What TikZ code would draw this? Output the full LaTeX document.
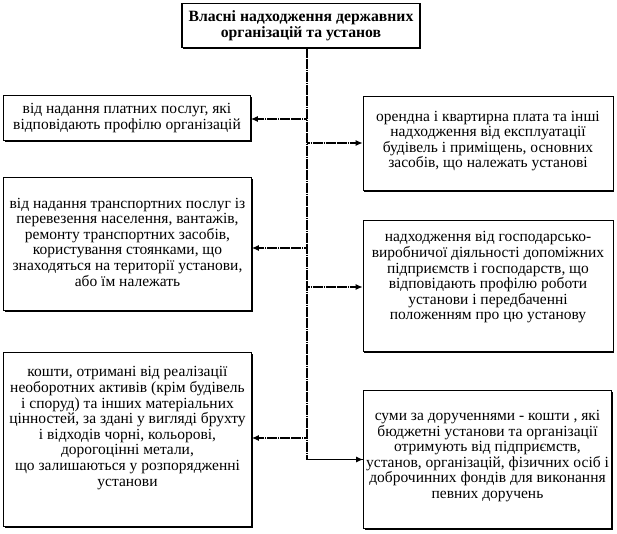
\documentclass[tikz,border=0pt]{standalone}
\usepackage{fontspec}
\setmainfont{Liberation Serif}
\usetikzlibrary{arrows.meta,shadows}
\begin{document}
\begin{tikzpicture}[x=1pt,y=-1pt,
  box/.style={draw=black, line width=0.7pt, fill=white, inner sep=0pt,
    drop shadow={shadow xshift=1.4pt, shadow yshift=-1.4pt, opacity=1, fill=black}},
  txt/.style={align=center, inner sep=0pt, font=\fontsize{15.5}{15.6}\selectfont},
  conn/.style={line width=1.1pt, dash pattern=on 1.6pt off 0.25pt},
  arr/.style={conn, -{Latex[length=7pt,width=6pt]}}]
\useasboundingbox (0,0) rectangle (617,533);
\node[box, line width=1.1pt, minimum width=238pt, minimum height=44pt] (top) at (301,25.5) {};
\node[txt, font=\bfseries\fontsize{15.7}{16.2}\selectfont] (topt) at (top.center)
  {Власні надходження державних\\організацій та установ};
\node[box, minimum width=247pt, minimum height=45pt] (b1) at (127,118) {};
\node[txt] (b1t) at (b1.center)
  {від надання платних послуг, які\\відповідають профілю організацій};
\node[box, minimum width=250pt, minimum height=94pt] (b2) at (488,143.5) {};
\node[txt] (b2t) at ([yshift=2.5pt]b2.center)
  {орендна і квартирна плата та інші\\надходження від експлуатації\\будівель і приміщень, основних\\засобів, що належать установі};
\node[box, minimum width=248pt, minimum height=133pt] (b3) at (127.5,244) {};
\node[txt] (b3t) at ([yshift=2pt]b3.center)
  {від надання транспортних послуг із\\перевезення населення, вантажів,\\ремонту транспортних засобів,\\користування стоянками, що\\знаходяться на території установи,\\або їм належать};
\node[box, minimum width=250pt, minimum height=131pt] (b4) at (488,286) {};
\node[txt] (b4t) at ([yshift=8.5pt]b4.center)
  {надходження від господарсько-\\виробничої діяльності допоміжних\\підприємств і господарств, що\\відповідають профілю роботи\\установи і передбаченні\\положенням про цю установу};
\node[box, minimum width=248pt, minimum height=174pt] (b5) at (127.5,439.5) {};
\node[txt] (b5t) at ([yshift=11.5pt]b5.center)
  {кошти, отримані від реалізації\\необоротних активів (крім будівель\\і споруд) та інших матеріальних\\цінностей, за здані у вигляді брухту\\і відходів чорні, кольорові,\\дорогоцінні метали,\\що залишаються у розпорядженні\\установи};
\node[box, minimum width=248pt, minimum height=138pt] (b6) at (487.5,459.5) {};
\node[txt] (b6t) at ([yshift=3.5pt]b6.center)
  {суми за дорученнями - кошти , які\\бюджетні установи та організації\\отримують від підприємств,\\установ, організацій, фізичних осіб і\\доброчинних фондів для виконання\\певних доручень};
\coordinate (t0) at (307,47.5);
\coordinate (j1) at (307,119);
\coordinate (j2) at (307,143);
\coordinate (j3) at (307,248);
\coordinate (j4) at (307,287);
\coordinate (j5) at (307,438);
\draw[conn] (t0) |- (b6.west);
\draw[arr] (t0 |- b6.west) -- (b6.west);
\draw[arr] (j1) -- (b1.east |- j1);
\draw[arr] (j2) -- (b2.west |- j2);
\draw[arr] (j3) -- (b3.east |- j3);
\draw[arr] (j4) -- (b4.west |- j4);
\draw[arr] (j5) -- (b5.east |- j5);
\end{tikzpicture}
\end{document}
